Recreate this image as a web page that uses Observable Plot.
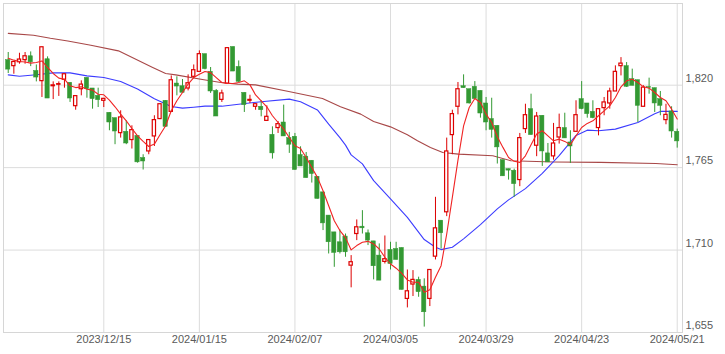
<!DOCTYPE html>
<html>
<head>
<meta charset="utf-8">
<script src="https://cdn.jsdelivr.net/npm/d3@7"></script>
<script src="https://cdn.jsdelivr.net/npm/@observablehq/plot@0.6"></script>
<style>
  html, body { margin: 0; padding: 0; background: #fff; }
  #chart svg { display: block; }
</style>
</head>
<body>
<div id="chart"></div>
<script>
// Candle data (trading-day index 0..119)
const openP = [1836.7,1832.7,1835.3,1836.7,1839.3,1829.5,1822.7,1837.3,1819.3,1820.3,
1823.6,1821.6,1806.0,1817.3,1824.9,1817.8,1812.9,1809.6,1801.6,1798.0,
1788.0,1788.9,1783.4,1786.2,1771.4,1775.8,1785.8,1797.4,1809.6,1802.2,
1821.1,1819.3,1817.8,1825.6,1828.9,1840.7,1828.9,1816.2,1810.2,1821.1,
1845.5,1832.2,1814.9,1809.6,1805.6,1805.6,1796.2,1786.9,1791.4,1795.1,
1784.7,1785.6,1773.4,1772.3,1769.6,1758.9,1748.5,1733.0,1721.8,1715.2,
1719.0,1699.6,1720.7,1725.6,1721.2,1715.8,1706.3,1702.1,1710.1,1710.7,
1711.4,1677.4,1687.0,1690.1,1685.6,1677.4,1705.6,1729.6,1735.2,1786.7,
1805.6,1819.3,1817.3,1818.9,1816.2,1807.8,1797.4,1792.9,1770.0,1764.0,
1762.9,1756.7,1790.7,1804.0,1779.6,1799.6,1774.5,1772.5,1785.1,1791.4,
1781.8,1788.9,1810.7,1807.8,1802.2,1791.4,1804.7,1807.8,1815.8,1832.7,
1832.7,1824.0,1823.3,1805.6,1818.7,1818.0,1810.7,1796.7,1802.5,1788.9];
const highP = [1841.8,1835.5,1841.3,1841.8,1842.2,1833.5,1845.3,1838.9,1822.2,1822.2,
1827.3,1821.6,1812.7,1822.9,1824.9,1817.8,1818.0,1810.9,1801.6,1798.0,
1802.9,1796.2,1792.9,1786.2,1773.6,1783.4,1799.6,1807.3,1809.6,1826.2,
1825.6,1823.8,1826.9,1833.5,1842.9,1840.7,1831.8,1817.1,1816.7,1844.7,
1845.5,1836.2,1814.9,1813.3,1807.3,1809.6,1806.2,1792.2,1795.8,1806.7,
1788.5,1787.8,1778.9,1775.1,1769.6,1758.9,1748.5,1733.0,1721.8,1723.4,
1720.7,1706.3,1730.1,1736.3,1723.4,1715.8,1714.1,1719.4,1715.2,1715.2,
1711.4,1696.7,1696.3,1691.9,1690.8,1696.7,1745.2,1729.6,1784.7,1803.3,
1821.8,1826.9,1817.3,1822.4,1816.2,1811.8,1811.3,1792.9,1770.0,1764.0,
1764.0,1787.8,1807.3,1814.0,1801.8,1799.6,1781.1,1794.5,1800.7,1801.3,
1789.6,1809.6,1822.4,1807.8,1809.6,1804.0,1811.8,1818.0,1832.9,1838.4,
1835.1,1830.7,1823.3,1819.6,1824.7,1818.0,1815.8,1807.3,1805.6,1790.7];
const lowP = [1827.8,1827.3,1834.0,1834.0,1832.4,1822.2,1811.8,1811.1,1810.4,1812.5,
1818.0,1808.5,1803.3,1812.9,1811.3,1804.0,1805.1,1805.1,1789.6,1780.3,
1784.7,1780.3,1777.4,1768.0,1763.4,1773.6,1779.1,1797.0,1791.8,1801.8,
1812.9,1814.9,1816.2,1824.4,1828.9,1830.2,1814.5,1799.1,1808.5,1821.1,
1829.1,1821.8,1801.8,1807.8,1803.3,1798.9,1796.2,1770.7,1787.8,1785.8,
1774.5,1763.4,1765.8,1758.0,1754.7,1744.1,1723.0,1707.4,1698.5,1707.4,
1705.2,1684.8,1716.3,1720.7,1713.0,1690.1,1689.6,1700.7,1696.7,1703.4,
1683.4,1671.4,1679.0,1678.5,1658.6,1672.3,1703.4,1710.7,1732.3,1773.6,
1800.2,1818.0,1807.4,1810.7,1798.0,1789.6,1784.7,1767.4,1759.2,1756.7,
1745.2,1752.3,1787.8,1786.7,1772.3,1765.8,1768.5,1770.0,1780.7,1784.5,
1767.8,1788.5,1803.6,1798.0,1797.6,1786.2,1799.6,1804.0,1815.8,1826.2,
1818.5,1819.6,1795.1,1805.6,1814.0,1801.8,1799.6,1793.6,1784.7,1778.0];
const closeP = [1830.4,1835.5,1837.1,1839.3,1835.3,1825.1,1845.3,1811.1,1819.9,1820.7,
1827.3,1811.1,1812.7,1820.4,1817.3,1810.7,1810.0,1810.9,1795.1,1789.1,
1798.5,1781.1,1790.0,1768.5,1769.1,1783.4,1796.7,1807.3,1792.2,1823.3,
1819.1,1814.9,1821.3,1830.0,1840.7,1830.7,1815.8,1799.1,1814.5,1844.7,
1829.1,1822.2,1806.7,1810.2,1807.3,1803.3,1798.9,1774.5,1794.0,1785.8,
1780.3,1763.4,1765.8,1758.0,1760.7,1744.1,1727.8,1715.2,1708.1,1708.5,
1708.5,1701.9,1725.2,1724.5,1716.3,1699.2,1689.6,1703.9,1700.7,1703.4,
1683.4,1682.5,1690.1,1681.9,1668.5,1696.7,1724.5,1721.2,1775.8,1800.7,
1817.3,1818.0,1807.8,1810.7,1801.1,1795.1,1790.2,1778.5,1759.2,1763.0,
1754.0,1784.7,1800.0,1786.7,1799.1,1775.8,1768.5,1781.1,1791.4,1784.5,
1779.1,1800.0,1804.0,1800.7,1798.0,1804.0,1808.5,1815.8,1828.9,1834.4,
1818.9,1819.6,1806.2,1818.4,1818.2,1807.8,1806.2,1800.2,1789.1,1782.5];

// Short moving average (red), one value per candle
const maShort = [1838.0,1836.7,1835.8,1835.5,1834.7,1835.1,1836.2,1831.8,1827.8,1824.7,
1824.0,1819.6,1818.4,1818.9,1817.3,1816.7,1814.0,1813.6,1810.0,1805.6,
1800.7,1796.2,1791.1,1786.2,1782.5,1779.1,1780.7,1786.9,1792.9,1802.9,
1809.6,1815.1,1820.7,1825.1,1827.3,1829.1,1828.4,1825.1,1821.8,1821.1,
1821.1,1821.8,1822.9,1820.2,1813.5,1809.6,1805.6,1799.6,1795.1,1790.7,
1785.1,1779.6,1777.8,1771.8,1765.1,1758.5,1749.6,1739.6,1729.6,1723.0,
1718.3,1710.1,1713.0,1715.2,1715.8,1714.1,1710.7,1705.2,1700.7,1697.9,
1694.5,1690.1,1688.5,1688.5,1681.9,1683.5,1691.9,1699.6,1720.7,1745.2,
1770.0,1792.9,1805.1,1811.1,1808.5,1800.7,1795.1,1785.6,1778.5,1771.8,
1769.2,1768.5,1772.9,1780.2,1787.4,1789.6,1786.2,1782.9,1784.0,1782.5,
1780.3,1786.2,1791.8,1794.5,1796.2,1799.6,1802.9,1806.2,1811.8,1818.9,
1822.9,1824.0,1821.8,1818.9,1818.0,1815.1,1811.8,1809.6,1804.0,1797.4];

// Medium moving average (blue), read at these candle positions
const maMidIdx = [0,2,5,8,11,14,17,20,23,26,29,31,33,35,38,41,45,50,52,55,57,59,60,61,63,65,68,71,74,76,77,79,81,84,87,89,92,95,98,101,103,105,108,112,115,116,119];
const maMid = [1826.9,1826.0,1827.0,1828.2,1828.2,1826.2,1825.1,1822.5,1817.5,1811.0,1805.8,1804.7,1805.3,1806.0,1806.0,1807.3,1809.0,1810.7,1809.0,1803.5,1794.0,1785.0,1780.0,1773.5,1767.5,1756.3,1744.1,1731.8,1717.0,1711.9,1710.3,1711.9,1717.5,1727.0,1737.5,1743.5,1751.0,1761.2,1773.0,1786.5,1790.0,1789.6,1790.7,1795.1,1801.0,1802.5,1802.5];

// Long moving average (brown), read at these candle positions
const maLongIdx = [0,4.5,7.5,10.6,14.7,19.6,25.7,28,29.8,34.8,37.8,40.8,44,49.9,55.9,59.1,62.7,65,68,71,72.8,75.1,77.3,80.1,86.2,89.4,97,105.4,115.2,119];
const maLong = [1854.6,1853.3,1851.3,1849.5,1846.6,1842.9,1831.8,1827.8,1826.9,1823.6,1821.8,1820.7,1820.2,1815.8,1811.1,1805.6,1800.7,1795.8,1792.2,1786.9,1782.9,1778.5,1775.1,1774.0,1772.9,1769.6,1768.8,1768.5,1767.8,1766.9];

// Axis ticks
const xTickIdx = [17,34,51,68,85,102,119];
const xTickLabels = ["2023/12/15","2024/01/15","2024/02/07","2024/03/05","2024/03/29","2024/04/23","2024/05/21"];
const yTicks = [1655,1710,1765,1820];

const candles = openP.map((o, i) => ({
  i, open: o, high: highP[i], low: lowP[i], close: closeP[i], up: closeP[i] >= o
}));
const upC = candles.filter(d => d.up);
const downC = candles.filter(d => !d.up);
const shortLine = maShort.map((v, i) => ({i, v}));
const midLine = maMid.map((v, k) => ({i: maMidIdx[k], v}));
const longLine = maLong.map((v, k) => ({i: maLongIdx[k], v}));

const RED = "#dd0000", GREEN = "#339933";
const hw = 0.38;

const chart = Plot.plot({
  width: 725,
  height: 354,
  marginLeft: 3,
  marginRight: 43,
  marginTop: 3,
  marginBottom: 22,
  style: {fontFamily: "'Liberation Sans', Arial, sans-serif", fontSize: "11px", color: "#5a5a5a", background: "#fff"},
  x: {type: "linear", domain: [-0.84, 119.94], label: null},
  y: {type: "linear", domain: [1655, 1874.5], label: null},
  marks: [
    Plot.gridY(yTicks.slice(1), {stroke: "#dcdcdc", strokeOpacity: 1}),
    Plot.gridX(xTickIdx, {stroke: "#dcdcdc", strokeOpacity: 1}),
    Plot.frame({stroke: "#d6d6d6"}),
    Plot.line(longLine, {x: "i", y: "v", stroke: "#a84848", strokeWidth: 1.1, clip: true}),
    Plot.line(midLine, {x: "i", y: "v", stroke: "#3c3cff", strokeWidth: 1.1, clip: true}),
    Plot.ruleX(candles, {x: "i", y1: "low", y2: "high", stroke: d => d.up ? RED : GREEN, strokeWidth: 1}),
    Plot.rect(downC, {x1: d => d.i - hw, x2: d => d.i + hw, y1: "open", y2: "close", fill: GREEN, stroke: GREEN, strokeWidth: 0.5}),
    Plot.rect(upC, {x1: d => d.i - hw + 0.09, x2: d => d.i + hw - 0.09, y1: "open", y2: "close", fill: "#fff", stroke: RED, strokeWidth: 1.2}),
    Plot.line(shortLine, {x: "i", y: "v", stroke: "#f02424", strokeWidth: 1.1, clip: true}),
    Plot.axisY(yTicks, {anchor: "right", label: null, tickSize: 0, tickPadding: 3, dy: -7, tickFormat: d3.format(","), textAnchor: "start"}),
    Plot.axisX(xTickIdx, {anchor: "bottom", label: null, tickSize: 0, tickPadding: 3, tickFormat: (d) => xTickLabels[xTickIdx.indexOf(d)]})
  ]
});
document.getElementById("chart").appendChild(chart);
</script>
</body>
</html>
